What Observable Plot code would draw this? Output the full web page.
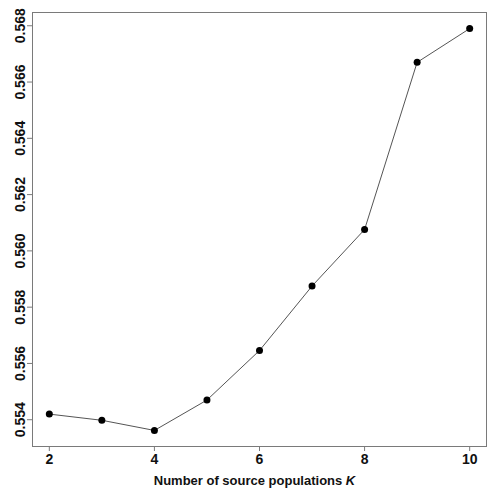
<!DOCTYPE html>
<html>
<head>
<meta charset="utf-8">
<script src="https://cdn.jsdelivr.net/npm/d3@7"></script>
<script src="https://cdn.jsdelivr.net/npm/@observablehq/plot@0.6"></script>
<style>
  html, body { margin: 0; padding: 0; background: #ffffff; }
  #chart { width: 500px; height: 496px; }
</style>
</head>
<body>
<div id="chart"></div>
<script>
// Number of source populations K
const K = [2, 3, 4, 5, 6, 7, 8, 9, 10];
// Criterion value for each K
const values = [0.55420, 0.55398, 0.55362, 0.55470, 0.55646, 0.55875, 0.56076, 0.56670, 0.56790];
// Tick labels
const xTicks = [2, 4, 6, 8, 10];
const yTicks = [0.554, 0.556, 0.558, 0.560, 0.562, 0.564, 0.566, 0.568];

const data = K.map((k, i) => ({k, v: values[i]}));

// R-style 4% padding on both axes
const xPad = (d3.max(K) - d3.min(K)) * 0.04;
const yPad = (d3.max(values) - d3.min(values)) * 0.04;

const chart = Plot.plot({
  width: 500,
  height: 496,
  marginLeft: 32,
  marginRight: 14,
  marginTop: 12,
  marginBottom: 50,
  style: {
    fontFamily: "'Liberation Sans', Arial, sans-serif",
    fontSize: "13px",
    fontWeight: "bold",
    background: "#ffffff",
    color: "#111"
  },
  x: { domain: [d3.min(K) - xPad, d3.max(K) + xPad] },
  y: { domain: [d3.min(values) - yPad, d3.max(values) + yPad] },
  marks: [
    Plot.frame({ stroke: "#7a7a7a", strokeWidth: 1 }),
    Plot.axisX({
      ticks: xTicks,
      tickSize: 5,
      tickPadding: 3,
      tickFormat: d => String(d),
      stroke: "#7a7a7a",
      fontSize: 14,
      label: "Number of source populations K",
      labelAnchor: "center",
      labelArrow: "none",
      labelOffset: 38
    }),
    Plot.axisY({
      ticks: yTicks,
      tickSize: 5,
      tickPadding: 3,
      tickRotate: -90,
      tickFormat: d3.format(".3f"),
      stroke: "#7a7a7a",
      fontSize: 14,
      label: null
    }),
    Plot.line(data, { x: "k", y: "v", stroke: "#555555", strokeWidth: 1 }),
    Plot.dot(data, { x: "k", y: "v", fill: "#000000", stroke: "none", r: 3.5 })
  ]
});

document.getElementById("chart").appendChild(chart);

// Italicise the "K" in the x-axis title and nudge it left like the reference
d3.select(chart).selectAll("text").each(function () {
  const t = d3.select(this);
  if (t.text().startsWith("Number of source populations")) {
    t.attr("dx", -5).style("font-size", "13px");
    const target = t.select("tspan").empty() ? t : t.select("tspan");
    target.text("");
    target.append("tspan").text("Number of source populations ");
    target.append("tspan").attr("font-style", "italic").text("K");
  }
});
</script>
</body>
</html>
